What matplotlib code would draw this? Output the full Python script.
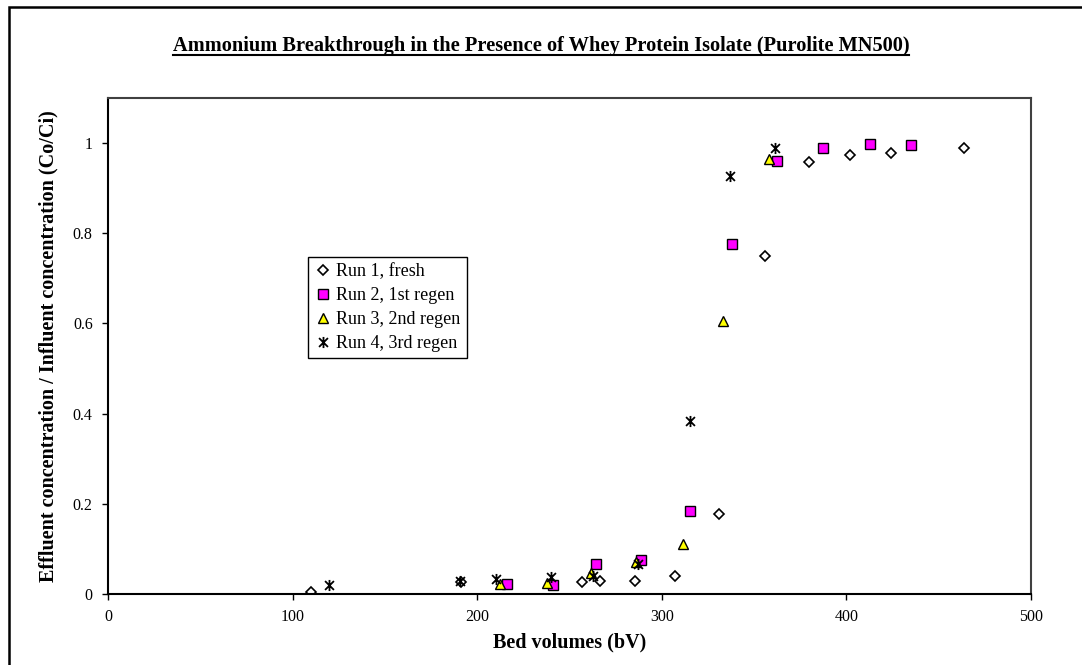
import matplotlib
matplotlib.use("Agg")
import matplotlib.pyplot as plt
from matplotlib.path import Path
from matplotlib.patches import Rectangle
from matplotlib.lines import Line2D

plt.rcParams['font.family'] = ['Liberation Serif', 'DejaVu Serif']

# bed volumes (bV) and Co/Ci
run1_x = [110, 191, 256.6, 266.5, 285.5, 307.3, 331, 355.7, 379.9, 402, 424, 463.7]
run1_y = [0.004, 0.027, 0.026, 0.029, 0.029, 0.041, 0.178, 0.75, 0.958, 0.974, 0.978, 0.99]

run2_x = [216, 241, 264.3, 288.5, 315.3, 338, 362.2, 387.5, 413, 434.8]
run2_y = [0.023, 0.021, 0.066, 0.075, 0.185, 0.776, 0.96, 0.99, 0.998, 0.995]

run3_x = [212.4, 237.6, 261.8, 286, 311.7, 333.2, 357.9]
run3_y = [0.022, 0.025, 0.047, 0.071, 0.110, 0.605, 0.964]

run4_x = [119.9, 190.7, 210, 240, 262.9, 287.3, 315.3, 336.9, 361.3]
run4_y = [0.021, 0.029, 0.033, 0.038, 0.041, 0.067, 0.384, 0.927, 0.989]

labels = ["Run 1, fresh", "Run 2, 1st regen", "Run 3, 2nd regen", "Run 4, 3rd regen"]

# excel style asterisk: an x with a vertical stroke
star = Path([(-1, -1), (1, 1), (-1, 1), (1, -1), (0, -1.25), (0, 1.25)],
            [Path.MOVETO, Path.LINETO, Path.MOVETO, Path.LINETO, Path.MOVETO, Path.LINETO])

fig = plt.figure(figsize=(10.82, 6.65), dpi=100)
ax = fig.add_axes([108/1082, 1-594/665, (1031-108)/1082, (594-98)/665])

ax.plot(run1_x, run1_y, ls='none', marker='D', ms=5, mfc='white', mec='black', mew=1.2, label=labels[0])
ax.plot(run2_x, run2_y, ls='none', marker='s', ms=7, mfc='#FF00FF', mec='black', mew=1.0, label=labels[1])
ax.plot(run3_x, run3_y, ls='none', marker='^', ms=7, mfc='#FFFF00', mec='black', mew=1.0, label=labels[2])
ax.plot(run4_x, run4_y, ls='none', marker=star, ms=8, mfc='none', mec='black', mew=1.3, label=labels[3])

ax.set_xlim(0, 500)
ax.set_ylim(0, 1.1)
ax.set_xticks([0, 100, 200, 300, 400, 500])
ax.set_xticklabels(['0', '100', '200', '300', '400', '500'])
ax.set_yticks([0, 0.2, 0.4, 0.6, 0.8, 1.0])
ax.set_yticklabels(['0', '0.2', '0.4', '0.6', '0.8', '1'])
ax.tick_params(direction='out', length=4, width=1, labelsize=11.5, pad=7, color='black')

ax.spines['left'].set_color('black')
ax.spines['bottom'].set_color('black')
ax.spines['top'].set_color('#404040')
ax.spines['right'].set_color('#404040')
for s in ax.spines.values():
    s.set_linewidth(1.5)

ax.set_xlabel('Bed volumes (bV)', fontsize=14.5, fontweight='bold', labelpad=5)
ax.set_ylabel('Effluent concentration / Influent concentration (Co/Ci)', fontsize=14.5,
              fontweight='bold', labelpad=10)

leg = ax.legend(loc='upper left', bbox_to_anchor=((308-108)/923, (594-257)/496),
                borderaxespad=0, fancybox=False, edgecolor='black', framealpha=1,
                fontsize=13, handletextpad=0.2, handlelength=1.0, labelspacing=0.38,
                borderpad=0.35)
leg.get_frame().set_linewidth(1.0)

title = fig.text(541/1082, 1-46/665, 'Ammonium Breakthrough in the Presence of Whey Protein Isolate (Purolite MN500)',
                 ha='center', va='center', fontsize=14.7, fontweight='bold')

# outer chart border (cut off at right and bottom as in the original)
fig.add_artist(Rectangle((9/1082, -0.1), 1.2, 1.1 - 7/665, transform=fig.transFigure,
                         fill=False, lw=1.8, ec='black'))

# underline the title
fig.canvas.draw()
bb = title.get_window_extent().transformed(fig.transFigure.inverted())
fig.add_artist(Line2D([bb.x0, bb.x1], [bb.y0 + 0.002, bb.y0 + 0.002], transform=fig.transFigure,
                      color='black', lw=1.5))

fig.savefig('out.png', dpi=100)
